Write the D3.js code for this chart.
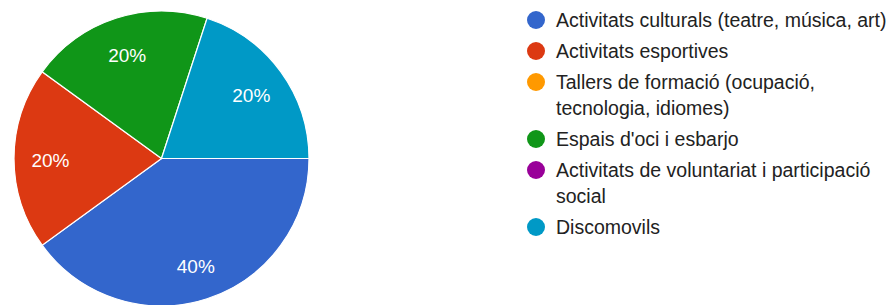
<!DOCTYPE html>
<html><head><meta charset="utf-8">
<script src="https://cdn.jsdelivr.net/npm/d3@7"></script>
<style>html,body{margin:0;padding:0;background:#fff;overflow:hidden}</style>
</head><body>
<svg id="chart" width="894" height="305"></svg>
<script>
const categories = [
  "Activitats culturals (teatre, música, art)",
  "Activitats esportives",
  "Tallers de formació (ocupació, tecnologia, idiomes)",
  "Espais d'oci i esbarjo",
  "Activitats de voluntariat i participació social",
  "Discomovils"
];
const values = [2, 1, 0, 1, 0, 1];
const colors = ["#3366cc", "#dc3912", "#ff9900", "#109618", "#990099", "#0099c6"];

const svg = d3.select("#chart");
const font = "'Liberation Sans', Arial, sans-serif";
const cx = 161.5, cy = 158.5, R = 147.5;
const total = d3.sum(values);

const data = categories.map((c, i) => ({name: c, value: values[i], color: colors[i]}));
const pie = d3.pie().sort(null).value(d => d.value)
  .startAngle(Math.PI / 2).endAngle(Math.PI / 2 + 2 * Math.PI);
const arcs = pie(data).filter(d => d.data.value > 0);
const arc = d3.arc().innerRadius(0).outerRadius(R);
const labelArc = d3.arc().innerRadius(111).outerRadius(111);

const g = svg.append("g").attr("transform", `translate(${cx},${cy})`);
g.selectAll("path").data(arcs).join("path")
  .attr("d", arc).attr("fill", d => d.data.color)
  .attr("stroke", "#fff").attr("stroke-width", 1.2);
g.selectAll("text").data(arcs).join("text")
  .attr("transform", d => `translate(${labelArc.centroid(d)})`)
  .attr("text-anchor", "middle").attr("dy", "0.46em")
  .attr("fill", "#fff").attr("font-family", font).attr("font-size", 19)
  .text(d => Math.round(d.data.value / total * 100) + "%");

// legend
const lx = 536, tx = 556, maxW = 336, rowStep = 31, lineStep = 26;
const leg = svg.append("g");
let y = 20;
data.forEach(d => {
  leg.append("circle").attr("cx", lx).attr("cy", y).attr("r", 9).attr("fill", d.color);
  const t = leg.append("text").attr("x", tx).attr("y", y + 6.5)
    .attr("font-family", font).attr("font-size", 19.5).attr("fill", "#222222");
  const words = d.name.split(" ");
  let line = [], lines = 0;
  let ts = t.append("tspan").attr("x", tx).attr("y", y + 6.5);
  words.forEach(w => {
    line.push(w);
    ts.text(line.join(" "));
    if (ts.node().getComputedTextLength() > maxW && line.length > 1) {
      line.pop(); ts.text(line.join(" "));
      line = [w]; lines++;
      ts = t.append("tspan").attr("x", tx).attr("y", y + 6.5 + lines * lineStep).text(w);
    }
  });
  y += rowStep + lines * lineStep;
});
</script>
</body></html>
